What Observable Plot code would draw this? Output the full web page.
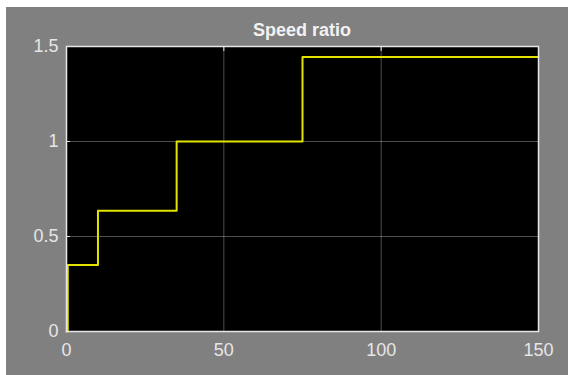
<!DOCTYPE html>
<html>
<head>
<meta charset="utf-8">
<script src="https://cdn.jsdelivr.net/npm/d3@7"></script>
<script src="https://cdn.jsdelivr.net/npm/@observablehq/plot@0.6"></script>
<style>
  html, body { margin: 0; padding: 0; background: #ffffff; }
  #wrap { position: absolute; left: 6px; top: 7px; width: 562px; height: 368px; background: #808080; overflow: hidden; }
  #title { position: absolute; top: 14px; left: 60px; width: 472px; text-align: center;
           font: bold 18px "Liberation Sans", Arial, sans-serif; line-height: 18px; color: #f2f2f2; }
</style>
</head>
<body>
<div id="wrap"><div id="title">Speed ratio</div></div>
<script>
const titleText = "Speed ratio";
const times = [0, 0.4, 10, 35, 75, 150];
const ratio = [0, 0.35, 0.635, 1, 1.445, 1.445];
const xTicks = [0, 50, 100, 150];
const yTicks = [0, 0.5, 1, 1.5];

document.getElementById("title").textContent = titleText;
const data = times.map((t, i) => ({t, v: ratio[i]}));

const chart = Plot.plot({
  width: 562,
  height: 368,
  marginLeft: 60,
  marginRight: 30,
  marginTop: 39,
  marginBottom: 44,
  style: {background: "transparent", color: "#e6e6e6", fontSize: "18px", fontFamily: "'Liberation Sans', Arial, sans-serif"},
  x: {domain: [0, 150], ticks: xTicks},
  y: {domain: [0, 1.5], ticks: yTicks},
  marks: [
    Plot.frame({fill: "black", stroke: "none"}),
    Plot.gridX(xTicks, {stroke: "white", strokeOpacity: 0.3, strokeWidth: 1}),
    Plot.gridY(yTicks, {stroke: "white", strokeOpacity: 0.3, strokeWidth: 1}),
    Plot.line(data, {x: "t", y: "v", curve: "step-after", stroke: "#e3e300", strokeWidth: 2}),
    Plot.frame({stroke: "#e6e6e6", strokeWidth: 1.5}),
    Plot.axisX(xTicks, {anchor: "bottom", tickSize: 0, tickPadding: 12, tickFormat: d => String(d), label: null}),
    Plot.axisY(yTicks, {anchor: "left", tickSize: 0, tickPadding: 8, tickFormat: d => String(d), label: null}),
    Plot.axisY(yTicks, {anchor: "left", tickSize: -4, tickFormat: () => "", label: null, stroke: "#e6e6e6"}),
    Plot.axisX(xTicks, {anchor: "top", tickSize: -4, tickFormat: () => "", label: null, stroke: "#e6e6e6"}),
  ]
});
document.getElementById("wrap").appendChild(chart);
</script>
</body>
</html>
